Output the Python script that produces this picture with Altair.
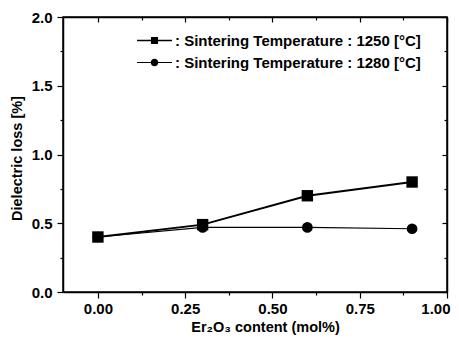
import altair as alt
import pandas as pd

er2o3 = [0.0, 0.3, 0.6, 0.9]
loss_1250 = [0.40, 0.49, 0.70, 0.80]
loss_1280 = [0.40, 0.47, 0.47, 0.46]
series_labels = [": Sintering Temperature : 1250 [°C]", ": Sintering Temperature : 1280 [°C]"]
x_ticks = [0.0, 0.125, 0.25, 0.375, 0.5, 0.625, 0.75, 0.875, 1.0]
y_ticks = [0.0, 0.25, 0.5, 0.75, 1.0, 1.25, 1.5, 1.75, 2.0]

rows = []
for x, v in zip(er2o3, loss_1250):
    rows.append({"x": x, "y": v, "series": series_labels[0]})
for x, v in zip(er2o3, loss_1280):
    rows.append({"x": x, "y": v, "series": series_labels[1]})
df = pd.DataFrame(rows)

FONT = "Liberation Sans"
xscale = alt.Scale(domain=[-0.1, 1.0], nice=False, zero=False)
yscale = alt.Scale(domain=[0, 2.0], nice=False, zero=False)

x_minor = "(datum.value*4) % 1 != 0"
y_minor = "(datum.value*2) % 1 != 0"

x_axis = alt.Axis(
    values=x_ticks,
    labelExpr="(datum.value*4) % 1 == 0 ? format(datum.value, '.2f') : ''",
    tickSize={"condition": {"test": x_minor, "value": 3}, "value": 6},
    grid=False, labelFont=FONT, labelFontSize=15, labelFontWeight="bold",
    labelColor="black", labelPadding=3, labelFlush=True, labelFlushOffset=3,
    labelOverlap=False,
    title="Er₂O₃ content (mol%)", titleFont=FONT, titleFontSize=14.5,
    titleFontWeight="bold", titleColor="black", titlePadding=4,
    titleX=202, titleAlign="center",
    domainColor="black", domainWidth=1.5, tickColor="black", tickWidth=1.2,
)
y_axis = alt.Axis(
    values=y_ticks,
    labelExpr="(datum.value*2) % 1 == 0 ? format(datum.value, '.1f') : ''",
    tickSize={"condition": {"test": y_minor, "value": 3}, "value": 6},
    grid=False, labelFont=FONT, labelFontSize=15, labelFontWeight="bold",
    labelColor="black", labelPadding=5, labelFlush=False, labelOverlap=False,
    title="Dielectric loss [%]", titleFont=FONT, titleFontSize=14.5,
    titleFontWeight="bold", titleColor="black", titlePadding=7,
    titleY=141, titleAlign="center",
    domainColor="black", domainWidth=1.5, tickColor="black", tickWidth=1.2,
)
x_top = alt.Axis(
    values=x_ticks, orient="top", labels=False, title=None, grid=False,
    tickSize={"expr": "(datum.value*4) % 1 != 0 ? -3 : -5"},
    domainColor="black", domainWidth=1.5, tickColor="black", tickWidth=1.2,
)
y_right = alt.Axis(
    values=y_ticks, orient="right", labels=False, title=None, grid=False,
    tickSize={"expr": "(datum.value*2) % 1 != 0 ? -3 : -5"},
    domainColor="black", domainWidth=1.5, tickColor="black", tickWidth=1.2,
)

base = alt.Chart(df)

axes_main = base.mark_point(opacity=0).encode(
    x=alt.X("x:Q", scale=xscale, axis=x_axis),
    y=alt.Y("y:Q", scale=yscale, axis=y_axis),
)
axes_mirror = base.mark_point(opacity=0).encode(
    x=alt.X("x:Q", scale=xscale, axis=x_top),
    y=alt.Y("y:Q", scale=yscale, axis=y_right),
)

def enc():
    return dict(
        x=alt.X("x:Q", scale=xscale, axis=None),
        y=alt.Y("y:Q", scale=yscale, axis=None),
    )

s1 = base.transform_filter(alt.datum.series == series_labels[0])
s2 = base.transform_filter(alt.datum.series == series_labels[1])

line1 = s1.mark_line(color="black", strokeWidth=1.9).encode(**enc())
line2 = s2.mark_line(color="black", strokeWidth=1.2).encode(**enc())
pt1 = s1.mark_point(shape="square", filled=True, color="black", opacity=1, size=130).encode(**enc())
pt2 = s2.mark_point(shape="circle", filled=True, color="black", opacity=1, size=115).encode(**enc())

# legend glyphs: a thin bar (line) plus the marker, unit = half of sqrt(symbolSize)
sq_path = "M-2.33,-0.09H2.33V0.09H-2.33Z M-0.47,-0.47H0.47V0.47H-0.47Z"
ci_path = ("M-2.33,-0.07H2.33V0.07H-2.33Z "
           "M-0.5,0A0.5,0.5 0 1,1 0.5,0A0.5,0.5 0 1,1 -0.5,0Z")

legend_layer = base.mark_point(opacity=0, filled=True, color="black").encode(
    x=alt.X("x:Q", scale=xscale, axis=None),
    y=alt.Y("y:Q", scale=yscale, axis=None),
    shape=alt.Shape(
        "series:N",
        scale=alt.Scale(domain=series_labels, range=[sq_path, ci_path]),
        legend=alt.Legend(
            orient="none", legendX=84, legendY=16, title=None,
            labelFont=FONT, labelFontSize=15, labelFontWeight="bold",
            labelColor="black", symbolSize=225, symbolStrokeWidth=0,
            symbolFillColor="black", symbolStrokeColor="black",
            symbolOpacity=1, labelOffset=13, rowPadding=6, padding=0,
            labelLimit=400,
        ),
    ),
)

chart = alt.layer(
    axes_main, axes_mirror, line1, line2, pt1, pt2, legend_layer
).resolve_axis(x="independent", y="independent").properties(
    width=384, height=275,
    autosize=alt.AutoSizeParams(type="none"),
    padding={"left": 55, "top": 9, "right": 4, "bottom": 43},
    background="white",
).configure_view(stroke="black", strokeWidth=1.5)

chart.save("out.html", embed_options={"renderer": "svg", "actions": False})
